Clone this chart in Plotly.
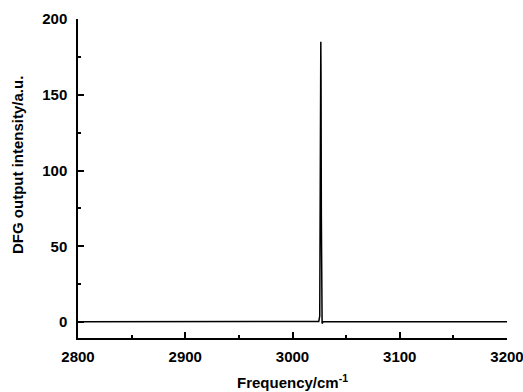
import plotly.graph_objects as go

freq = [2800, 2900, 3000, 3024.5, 3025.4, 3025.9, 3026.2, 3026.4, 3026.6, 3026.9, 3027.3, 3027.6, 3028.5, 3100, 3200]
intensity = [0.3, 0.3, 0.3, 0.4, 4, 70, 160, 185, 160, 70, 4, -1, 0.3, 0.3, 0.3]

x_ticks = [2800, 2900, 3000, 3100, 3200]
y_ticks = [0, 50, 100, 150, 200]

W, H = 523, 392
L, R, T, B = 78, 16, 19, 54

fig = go.Figure()
fig.add_trace(go.Scatter(x=freq, y=intensity, mode="lines",
                         line=dict(color="black", width=1.5), showlegend=False))

font = "Liberation Sans, Arial, sans-serif"
tickfont = dict(family=font, size=15, color="black", weight="bold")
titlefont = dict(family=font, size=15, color="black", weight="bold")
axcommon = dict(showgrid=False, zeroline=False, showline=True, linecolor="black", linewidth=1.5,
                ticks="inside", ticklen=6, tickwidth=1.5, tickcolor="black", tickfont=tickfont,
                automargin=False, ticklabeloverflow="allow")

fig.update_xaxes(range=[2800, 3200], tickvals=x_ticks, ticktext=[str(v) for v in x_ticks],
                 minor=dict(ticks="inside", ticklen=3.5, tickwidth=1.5, tickcolor="black", dtick=50, tick0=2800),
                 ticklabelstandoff=4, **axcommon)
fig.update_yaxes(range=[-10.5, 200], tickvals=y_ticks, ticktext=[str(v) for v in y_ticks],
                 minor=dict(ticks="inside", ticklen=3.5, tickwidth=1.5, tickcolor="black", dtick=25, tick0=0),
                 ticklabelstandoff=6, **axcommon)

fig.add_annotation(text="Frequency/cm<sup>-1</sup>", xref="paper", yref="paper",
                   x=(292 - L) / (W - L - R), y=-(381 - (H - B)) / (H - T - B),
                   xanchor="center", yanchor="middle", showarrow=False, font=titlefont)
fig.add_annotation(text="DFG output intensity/a.u.", xref="paper", yref="paper",
                   x=-(L - 18) / (W - L - R), y=((H - B) - 165) / (H - T - B),
                   xanchor="center", yanchor="middle", textangle=-90, showarrow=False, font=titlefont)

fig.update_layout(width=W, height=H, margin=dict(l=L, r=R, t=T, b=B, autoexpand=False),
                  plot_bgcolor="white", paper_bgcolor="white")
fig.write_html("out.html", config={"displayModeBar": False},
               post_script="document.body.style.margin='0';document.body.style.padding='0';")
